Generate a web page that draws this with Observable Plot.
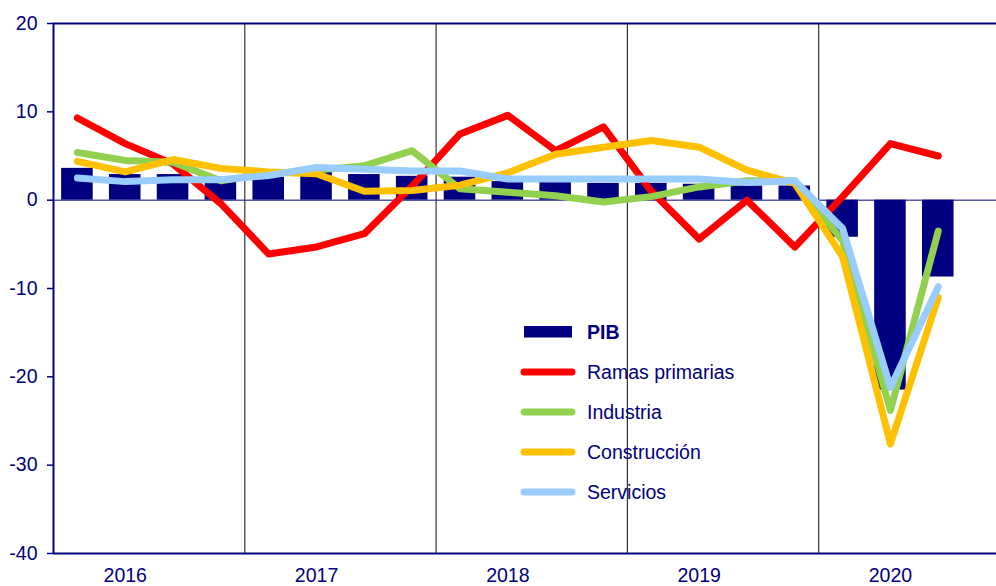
<!DOCTYPE html>
<html>
<head>
<meta charset="utf-8">
<script src="https://cdn.jsdelivr.net/npm/d3@7"></script>
<script src="https://cdn.jsdelivr.net/npm/@observablehq/plot@0.6"></script>
<style>
  html, body { margin: 0; padding: 0; background: #fff; }
  #wrap { position: relative; width: 996px; height: 586px; overflow: hidden; font-family: "Liberation Sans", Arial, sans-serif; }
  #legend { position: absolute; left: 0; top: 0; pointer-events: none; }
</style>
</head>
<body>
<div id="wrap"></div>
<script>
// ---- Data (annual % change, quarterly) ----
const years = ["2016", "2017", "2018", "2019", "2020"];
const quarters = ["T1", "T2", "T3", "T4"];
const yTicks = [-40, -30, -20, -10, 0, 10, 20];

const pib       = [3.6, 2.9, 2.9, 2.6, 2.6, 3.2, 2.9, 2.7, 2.6, 2.1, 2.2, 1.9, 1.9, 1.8, 1.6, 1.6, -4.2, -21.5, -8.7];
const primarias = [9.3, 6.4, 4.1, -0.4, -6.1, -5.3, -3.8, 1.6, 7.5, 9.6, 5.6, 8.3, 1.0, -4.4, 0.0, -5.3, 0.4, 6.4, 5.0];
const industria = [5.4, 4.5, 4.3, 2.2, 3.0, 3.4, 3.9, 5.6, 1.3, 0.9, 0.5, -0.2, 0.4, 1.5, 2.2, 2.2, -4.6, -23.8, -3.5];
const construccion = [4.4, 3.2, 4.6, 3.6, 3.2, 3.0, 1.0, 1.1, 1.7, 3.1, 5.2, 6.0, 6.75, 6.0, 3.4, 1.9, -6.4, -27.6, -11.0];
const servicios = [2.5, 2.1, 2.3, 2.3, 2.8, 3.7, 3.5, 3.3, 3.3, 2.4, 2.4, 2.4, 2.4, 2.4, 2.0, 2.2, -3.2, -21.2, -9.8];

const seriesNames = ["PIB", "Ramas primarias", "Industria", "Construcción", "Servicios"];
const seriesColors = ["#000080", "#ff0000", "#92d050", "#ffc000", "#99ccff"];

// ---- Build tables ----
const periods = years.flatMap(y => quarters.map(q => `${y}-${q}`)); // 20 slots, last one empty
const rows = (values, serie) => values.map((v, i) => ({periodo: periods[i], valor: v, serie}));
const pibRows = rows(pib, "PIB");
const lineSeries = [
  rows(primarias, "Ramas primarias"),
  rows(industria, "Industria"),
  rows(construccion, "Construcción"),
  rows(servicios, "Servicios")
];

const navy = "#000080";
const x0 = 53, x1 = 1009.5;
const step = (x1 - x0) / periods.length;
const font = "'Liberation Sans', Arial, sans-serif";

const chart = Plot.plot({
  width: 996,
  height: 586,
  marginTop: 23,
  marginBottom: 33,
  marginLeft: 53,
  marginRight: 0,
  style: {fontFamily: font, fontSize: "19.5px", color: navy, background: "white", overflow: "hidden"},
  x: {type: "band", domain: periods, range: [x0, x1], paddingInner: 0.34, paddingOuter: 0.17, round: false, axis: null, label: null},
  y: {domain: [-40, 20], axis: null, label: null},
  marks: [
    Plot.barY(pibRows, {x: "periodo", y: "valor", fill: seriesColors[0]}),
    Plot.ruleY([0], {stroke: navy, strokeWidth: 1}),
    Plot.ruleX(years.slice(1).map(y => y + "-T1"), {dx: -step / 2, stroke: "#333", strokeWidth: 1.2}),
    ...lineSeries.map((data, k) =>
      Plot.line(data, {x: "periodo", y: "valor", stroke: seriesColors[k + 1], strokeWidth: 7,
        strokeLinejoin: "round", strokeLinecap: "round"})),
    Plot.ruleY([20, -40], {stroke: navy, strokeWidth: 2}),
    Plot.ruleX([periods[0]], {dx: -step / 2, stroke: navy, strokeWidth: 2}),
    Plot.axisY({ticks: yTicks, tickSize: 6, tickPadding: 10, stroke: navy, strokeWidth: 1.5,
      fill: navy, fontSize: 19.5, label: null, tickFormat: d => String(d)}),
    Plot.axisX({ticks: years.map(y => y + "-T2"), tickFormat: d => d.slice(0, 4), tickSize: 0,
      tickPadding: 14.5, fill: navy, fontSize: 19.5, label: null})
  ]
});

const wrap = document.getElementById("wrap");
wrap.appendChild(chart);

// ---- Legend (inside plot area) ----
const ns = "http://www.w3.org/2000/svg";
const leg = document.createElementNS(ns, "svg");
leg.setAttribute("id", "legend");
leg.setAttribute("width", 996);
leg.setAttribute("height", 586);
const legX = 521, legTextX = 587, legY0 = 332, legDY = 40;
seriesNames.forEach((name, i) => {
  const cy = legY0 + i * legDY;
  if (i === 0) {
    const r = document.createElementNS(ns, "rect");
    r.setAttribute("x", legX + 3); r.setAttribute("y", cy - 6);
    r.setAttribute("width", 48); r.setAttribute("height", 11.5);
    r.setAttribute("fill", seriesColors[i]);
    leg.appendChild(r);
  } else {
    const l = document.createElementNS(ns, "line");
    l.setAttribute("x1", legX + 3); l.setAttribute("x2", legX + 51);
    l.setAttribute("y1", cy); l.setAttribute("y2", cy);
    l.setAttribute("stroke", seriesColors[i]); l.setAttribute("stroke-width", 7);
    l.setAttribute("stroke-linecap", "round");
    leg.appendChild(l);
  }
  const t = document.createElementNS(ns, "text");
  t.setAttribute("x", legTextX); t.setAttribute("y", cy);
  t.setAttribute("dy", "0.35em");
  t.setAttribute("fill", navy);
  t.setAttribute("font-family", font);
  t.setAttribute("font-size", "19.5px");
  if (i === 0) t.setAttribute("font-weight", "bold");
  t.textContent = name;
  leg.appendChild(t);
});
wrap.appendChild(leg);
</script>
</body>
</html>
